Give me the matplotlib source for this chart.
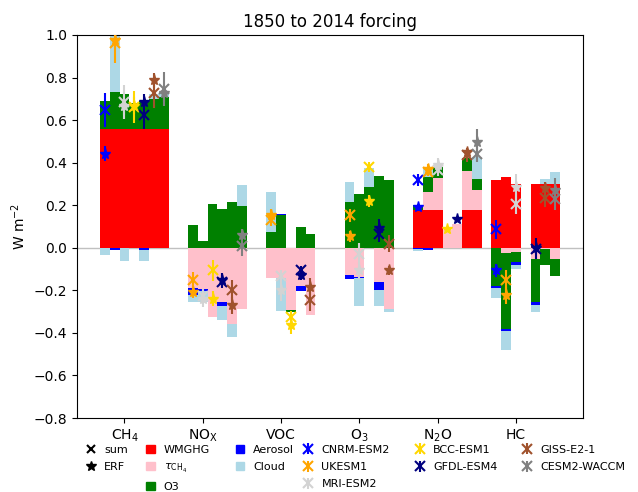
import numpy as np
import matplotlib.pyplot as plt
from matplotlib.lines import Line2D
from matplotlib.patches import Patch

nan = np.nan

species = ['CH$_4$', 'NO$_\\mathrm{X}$', 'VOC', 'O$_3$', 'N$_2$O', 'HC']
models = ['CNRM-ESM2', 'UKESM1', 'MRI-ESM2', 'BCC-ESM1', 'GFDL-ESM4', 'GISS-E2-1', 'CESM2-WACCM']
model_colors = ['blue', 'orange', 'lightgrey', 'gold', 'navy', 'sienna', 'grey']

# forcing components, rows = species, columns = models (W m-2)
wmghg = [
    [0.557, 0.557, 0.557, 0.557, 0.557, 0.557, 0.557],
    [nan, 0, 0, 0, 0, 0, 0],
    [nan, 0, 0, 0, 0, 0, nan],
    [nan, 0, 0, 0, 0, 0, nan],
    [0.176, 0.176, 0.176, 0, 0, 0.176, 0.176],
    [0.317, 0.333, 0.30, nan, 0.30, 0.30, 0.30],
]
tau_ch4 = [
    [0, 0, 0, 0, 0, 0, 0],
    [nan, -0.19, -0.195, -0.325, -0.255, -0.36, -0.286],
    [nan, -0.142, -0.14, -0.294, -0.181, -0.318, nan],
    [nan, -0.126, -0.137, 0, -0.16, -0.287, nan],
    [0, 0.087, 0.15, 0.082, 0.11, 0.184, 0.094],
    [0, -0.025, -0.02, nan, -0.055, -0.005, -0.055],
]
ozone = [
    [0.133, 0.176, 0.167, 0.125, 0.135, 0.14, 0.15],
    [nan, 0.106, 0.03, 0.205, 0.18, 0.217, 0.195],
    [nan, 0.074, 0.153, -0.008, 0.098, 0.067, nan],
    [nan, 0.213, 0.255, 0.286, 0.336, 0.32, nan],
    [0.024, 0.07, 0.055, 0, 0, 0.06, 0.055],
    [-0.18, -0.355, -0.047, nan, -0.2, -0.075, -0.08],
]
aerosol = [
    [0, -0.01, 0, 0, -0.01, 0, 0],
    [nan, -0.03, -0.01, 0, -0.02, 0, 0],
    [nan, 0, 0.005, 0, -0.024, 0, nan],
    [nan, -0.019, -0.005, 0, -0.037, 0, nan],
    [-0.004, -0.01, 0, 0, 0, 0, 0],
    [-0.01, -0.01, -0.013, nan, -0.015, 0, 0],
]
cloud = [
    [-0.036, 0.27, -0.06, 0, -0.05, 0.025, 0.03],
    [nan, -0.035, -0.05, 0, -0.063, -0.06, 0.102],
    [nan, 0.19, -0.155, 0, 0, 0, nan],
    [nan, 0.094, -0.13, 0.091, -0.078, -0.015, nan],
    [-0.01, 0.04, 0, 0, 0, 0, 0.1],
    [-0.045, -0.09, -0.02, nan, -0.03, 0.025, 0.055],
]

# sum of components and ERF with their uncertainties
sum_val = [
    [0.647, 0.96, 0.686, 0.66, 0.623, 0.725, 0.745],
    [nan, -0.153, -0.225, -0.106, -0.16, -0.2, 0.01],
    [nan, 0.13, -0.135, -0.325, -0.106, -0.247, nan],
    [nan, 0.153, -0.027, 0.38, 0.067, 0.02, nan],
    [0.318, 0.357, 0.365, nan, nan, 0.435, 0.443],
    [0.086, -0.153, 0.208, nan, -0.004, 0.232, 0.227],
]
sum_err = [
    [0.08, 0.09, 0.08, 0.075, 0.065, 0.07, 0.08],
    [nan, 0.04, 0.03, 0.05, 0.03, 0.05, 0.05],
    [nan, 0.03, 0.03, 0.03, 0.02, 0.05, nan],
    [nan, 0.03, 0.05, 0.025, 0.04, 0.04, nan],
    [0.03, 0.02, 0.03, nan, nan, 0.03, 0.04],
    [0.045, 0.05, 0.05, nan, 0.05, 0.04, 0.05],
]
erf_val = [
    [0.443, 0.975, 0.665, 0.668, 0.686, 0.788, 0.725],
    [nan, -0.208, -0.24, -0.24, -0.15, -0.27, 0.058],
    [nan, 0.153, -0.2, -0.365, -0.13, -0.184, nan],
    [nan, 0.054, -0.106, 0.22, 0.093, -0.106, nan],
    [0.19, 0.372, 0.39, 0.087, 0.133, 0.45, 0.498],
    [-0.106, -0.224, 0.286, nan, 0.0, 0.28, 0.27],
]
erf_err = [
    [0.035, 0.03, 0.04, 0.04, 0.035, 0.035, 0.04],
    [nan, 0.03, 0.04, 0.035, 0.03, 0.04, 0.03],
    [nan, 0.03, 0.05, 0.04, 0.02, 0.04, nan],
    [nan, 0.025, 0.04, 0.03, 0.04, 0.02, nan],
    [0.015, 0.02, 0.03, 0, 0, 0.02, 0.06],
    [0.03, 0.04, 0.06, nan, 0.03, 0.03, 0.06],
]

components = [wmghg, tau_ch4, ozone, aerosol, cloud]
comp_colors = ['red', 'pink', 'green', 'blue', 'lightblue']
comp_labels = ['WMGHG', r'$\tau_{\mathrm{CH_4}}$', 'O3', 'Aerosol', 'Cloud']

width = 0.125

fig = plt.figure(figsize=(6.38, 4.92), dpi=100)
ax = fig.add_axes([0.1207, 0.1504, 0.7931, 0.7785])

ax.axhline(0, color='silver', lw=1, zorder=0.5)

model_handles = []
for i in range(len(species)):
    for j in range(len(models)):
        x = i + (j - 2) * width
        pos = 0.0
        neg = 0.0
        for comp, col in zip(components, comp_colors):
            v = comp[i][j]
            if np.isnan(v) or v == 0:
                continue
            if v > 0:
                ax.bar(x, v, width, bottom=pos, color=col, linewidth=0)
                pos += v
            else:
                ax.bar(x, v, width, bottom=neg, color=col, linewidth=0)
                neg += v
        c = model_colors[j]
        if not np.isnan(sum_val[i][j]):
            eb = ax.errorbar(x, sum_val[i][j], yerr=sum_err[i][j], fmt='x', color=c,
                             elinewidth=1.5, mew=1.5, ms=7, zorder=3)
            if i == 0:
                model_handles.append(eb)
        if not np.isnan(erf_val[i][j]):
            ax.errorbar(x, erf_val[i][j], yerr=erf_err[i][j], fmt='*', color=c,
                        elinewidth=1.5, ms=8, zorder=3)

ax.set_ylim(-0.8, 1.0)
ax.set_xticks(range(len(species)))
ax.set_xticklabels(species)
ax.set_ylabel('W m$^{-2}$')
ax.set_title('1850 to 2014 forcing')

leg_kw = dict(frameon=False, fontsize=8, handlelength=0.8, borderpad=0,
              borderaxespad=0, labelspacing=0.65, columnspacing=2.3, loc='upper left')

h1 = [Line2D([], [], marker='x', color='k', ls='none', mew=1.5),
      Line2D([], [], marker='*', color='k', ls='none', ms=7)]
fig.legend(h1, ['sum', 'ERF'], bbox_to_anchor=(0.1353, 0.096), **leg_kw)

h2 = [Patch(color=c) for c in comp_colors]
fig.legend(h2, comp_labels, ncol=2, bbox_to_anchor=(0.2288, 0.096), **leg_kw)

fig.legend(model_handles, models, ncol=3, bbox_to_anchor=(0.4759, 0.096), **leg_kw)

fig.savefig('out.png', dpi=100)
